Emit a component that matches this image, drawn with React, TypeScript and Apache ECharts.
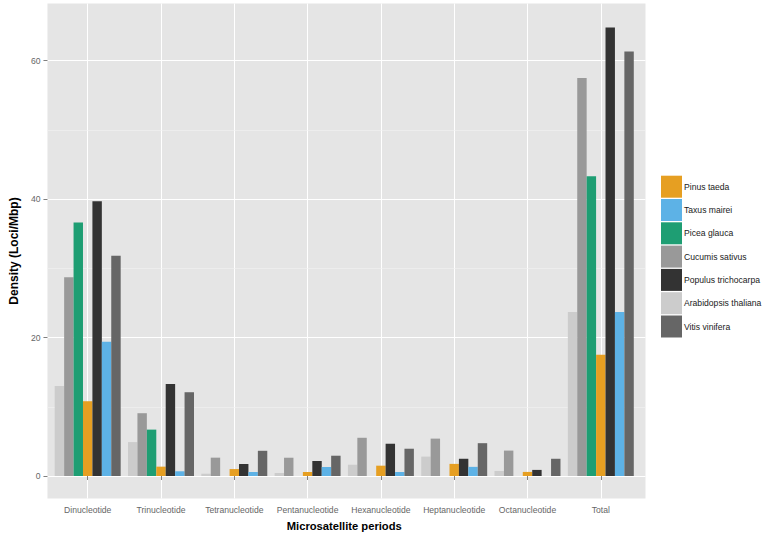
import React, { useEffect, useRef } from "react";
import * as echarts from "echarts";

const categories = [
  "Dinucleotide",
  "Trinucleotide",
  "Tetranucleotide",
  "Pentanucleotide",
  "Hexanucleotide",
  "Heptanucleotide",
  "Octanucleotide",
  "Total",
];

// bar order within each group (alphabetical, as in the reference)
const arabidopsis = [13.0, 4.9, 0.33, 0.43, 1.63, 2.8, 0.73, 23.7];
const cucumis = [28.7, 9.07, 2.65, 2.64, 5.52, 5.4, 3.67, 57.5];
const picea = [36.6, 6.7, 0, 0, 0, 0, 0, 43.3];
const pinus = [10.8, 1.35, 1.0, 0.58, 1.49, 1.75, 0.59, 17.5];
const populus = [39.7, 13.3, 1.73, 2.17, 4.66, 2.49, 0.88, 64.8];
const taxus = [19.4, 0.68, 0.58, 1.3, 0.58, 1.32, 0, 23.7];
const vitis = [31.8, 12.1, 3.64, 2.93, 3.94, 4.74, 2.49, 61.3];

const seriesDefs = [
  { name: "Arabidopsis thaliana", data: arabidopsis, color: "#CCCCCC" },
  { name: "Cucumis sativus", data: cucumis, color: "#999999" },
  { name: "Picea glauca", data: picea, color: "#1E9E73" },
  { name: "Pinus taeda", data: pinus, color: "#E69F22" },
  { name: "Populus trichocarpa", data: populus, color: "#333333" },
  { name: "Taxus mairei", data: taxus, color: "#5DB2E6" },
  { name: "Vitis vinifera", data: vitis, color: "#666666" },
];

const legendOrder = [
  "Pinus taeda",
  "Taxus mairei",
  "Picea glauca",
  "Cucumis sativus",
  "Populus trichocarpa",
  "Arabidopsis thaliana",
  "Vitis vinifera",
];

const majorTicks = [0, 20, 40, 60];
const minorTicks = [10, 30, 50];
const yMin = -3.25;
const yMax = 68.25;

const FONT = "'Liberation Sans', Arial, sans-serif";

export default function App() {
  const ref = useRef<HTMLDivElement>(null);

  useEffect(() => {
    if (!ref.current) return;
    const chart = echarts.init(ref.current, undefined, { renderer: "svg" });
    const option: any = {
      animation: false,
      textStyle: { fontFamily: FONT },
      grid: [
        {
          left: 44,
          top: 3.5,
          width: 601.5,
          height: 495,
          show: true,
          backgroundColor: "#E5E5E5",
          borderWidth: 0,
        },
        { left: 51.05, top: 3.5, width: 586.4, height: 495 },
      ],
      xAxis: [
        { gridIndex: 0, type: "category", data: categories, show: false },
        {
          gridIndex: 1,
          type: "category",
          data: categories,
          axisLine: { show: false },
          axisTick: {
            show: true,
            alignWithLabel: true,
            length: 4,
            lineStyle: { color: "#7F7F7F" },
          },
          axisLabel: {
            color: "#666666",
            fontSize: 8.6,
            margin: 7,
            fontFamily: FONT,
            interval: 0,
          },
          splitLine: {
            show: true,
            alignWithLabel: true,
            lineStyle: { color: "#FFFFFF", width: 1 },
          },
          name: "Microsatellite periods",
          nameLocation: "middle",
          nameGap: 22,
          nameTextStyle: {
            fontWeight: "bold",
            fontSize: 11.2,
            color: "#000000",
            fontFamily: FONT,
          },
        },
      ],
      yAxis: [
        {
          gridIndex: 0,
          type: "value",
          min: yMin,
          max: yMax,
          axisLine: { show: false },
          axisTick: {
            show: true,
            length: 4,
            customValues: majorTicks,
            lineStyle: { color: "#7F7F7F" },
          },
          axisLabel: {
            customValues: majorTicks,
            color: "#666666",
            fontSize: 8.6,
            margin: 7,
            fontFamily: FONT,
          },
          splitLine: { show: true, lineStyle: { color: "#FFFFFF", width: 1 } },
          name: "Density (Loci/Mbp)",
          nameLocation: "middle",
          nameRotate: 90,
          nameGap: 27,
          nameTextStyle: {
            fontWeight: "bold",
            fontSize: 12,
            color: "#000000",
            fontFamily: FONT,
          },
        },
        { gridIndex: 1, type: "value", min: yMin, max: yMax, show: false },
      ],
      legend: {
        data: legendOrder,
        orient: "vertical",
        left: 661,
        top: 175.7,
        padding: 0,
        itemWidth: 21,
        itemHeight: 22,
        itemGap: 1.3,
        icon: "rect",
        selectedMode: false,
        textStyle: {
          fontSize: 8.6,
          color: "#1A1A1A",
          fontFamily: FONT,
          padding: [0, 0, 0, -3],
        },
      },
      series: [
        {
          type: "line",
          xAxisIndex: 0,
          yAxisIndex: 0,
          data: [],
          silent: true,
          markLine: {
            silent: true,
            z: 1,
            symbol: "none",
            label: { show: false },
            lineStyle: { color: "#F2F2F2", width: 0.6, type: "solid" },
            data: minorTicks.map((v) => ({ yAxis: v })),
          },
        },
        ...seriesDefs.map((s) => ({
          name: s.name,
          type: "bar",
          xAxisIndex: 1,
          yAxisIndex: 1,
          data: s.data,
          barGap: "0%",
          barCategoryGap: "10%",
          z: 3,
          itemStyle: { color: s.color },
          emphasis: { disabled: true },
        })),
      ],
    };
    chart.setOption(option);
    return () => chart.dispose();
  }, []);

  return (
    <div
      ref={ref}
      style={{ position: "absolute", left: 0, top: 0, width: 764, height: 539 }}
    />
  );
}
